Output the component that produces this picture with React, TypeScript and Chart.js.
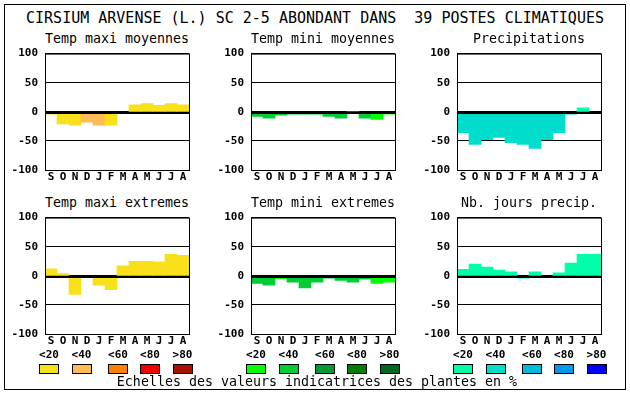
import React, { useEffect, useRef } from "react";
import { Chart, registerables } from "chart.js";

Chart.register(...registerables);

const MONO = '"DejaVu Sans Mono", "Liberation Mono", monospace';

const months = ["S", "O", "N", "D", "J", "F", "M", "A", "M", "J", "J", "A"];

const mainTitle = "CIRSIUM ARVENSE (L.) SC 2-5 ABONDANT DANS  39 POSTES CLIMATIQUES";
const footerText = "Echelles des valeurs indicatrices des plantes en %";
const scaleLabels = ["<20", "<40", "<60", "<80", ">80"];
const yTicks = [-100, -50, 0, 50, 100];

const warmColors = ["#F8E11A", "#FFBB55", "#FF8000", "#EE0000", "#AA1100"];
const greenColors = ["#00FF00", "#00CC33", "#009933", "#007F00", "#006622"];
const blueColors = ["#00FFAA", "#00DDCC", "#00BBDD", "#0099EE", "#0000FF"];

const tmaxMoyValues = [-4, -21, -23, -18, -23, -23, -2, 12, 14, 11, 14, 12];
const tmaxMoyClasses = [0, 0, 0, 1, 1, 0, 0, 0, 0, 0, 0, 0];

const tminMoyValues = [-8, -11, -6, -4, -4, -4, -8, -11, 0, -11, -13, -4];
const tminMoyClasses = [1, 1, 1, 1, 1, 1, 1, 1, 1, 1, 0, 0];

const precipValues = [-36, -56, -48, -44, -53, -56, -63, -48, -36, -4, 7, -2];
const precipClasses = [1, 1, 1, 1, 1, 1, 1, 1, 1, 1, 0, 1];

const tmaxExtValues = [12, 4, -32, -3, -16, -24, 17, 25, 25, 24, 37, 35];
const tmaxExtClasses = [0, 0, 0, 0, 0, 0, 0, 0, 0, 0, 0, 0];

const tminExtValues = [-13, -16, -5, -11, -21, -11, -4, -8, -11, -6, -13, -11];
const tminExtClasses = [1, 1, 0, 1, 1, 1, 1, 1, 1, 1, 0, 0];

const joursValues = [11, 20, 15, 10, 7, -4, 7, -3, 5, 22, 37, 37];
const joursClasses = [0, 0, 0, 0, 0, 0, 0, 0, 0, 0, 0, 0];

const panels = [
  { title: "Temp maxi moyennes", values: tmaxMoyValues, classes: tmaxMoyClasses, palette: warmColors, px: 45, py: 50 },
  { title: "Temp mini moyennes", values: tminMoyValues, classes: tminMoyClasses, palette: greenColors, px: 251, py: 50 },
  { title: "Precipitations", values: precipValues, classes: precipClasses, palette: blueColors, px: 457, py: 50 },
  { title: "Temp maxi extremes", values: tmaxExtValues, classes: tmaxExtClasses, palette: warmColors, px: 45, py: 214 },
  { title: "Temp mini extremes", values: tminExtValues, classes: tminExtClasses, palette: greenColors, px: 251, py: 214 },
  { title: "Nb. jours precip.", values: joursValues, classes: joursClasses, palette: blueColors, px: 457, py: 214 },
];

const legendGroups = [
  { left: 39, palette: warmColors },
  { left: 246, palette: greenColors },
  { left: 453, palette: blueColors },
];
const legendOffsets = [0, 32.5, 69, 101, 133.5];

const PLOT_W = 144;
const PLOT_H = 120;
const AXIS_W = 40;
const PAD_TOP = 10;
const PAD_RIGHT = 6;
const XAXIS_H = 20;

const framePlugin = {
  id: "frameAndZero",
  afterDraw(chart: any) {
    const { ctx, chartArea } = chart;
    const y = chart.scales.y;
    ctx.save();
    ctx.strokeStyle = "#000";
    ctx.lineWidth = 1;
    ctx.strokeRect(
      chartArea.left + 0.5,
      chartArea.top + 0.5,
      chartArea.right - chartArea.left,
      chartArea.bottom - chartArea.top
    );
    const y0 = Math.round(y.getPixelForValue(0));
    ctx.fillStyle = "#000";
    ctx.fillRect(chartArea.left, y0, chartArea.right - chartArea.left + 1, 2);
    ctx.restore();
  },
};

function Panel({ p }: { p: any }) {
  const ref = useRef<HTMLCanvasElement>(null);
  useEffect(() => {
    if (!ref.current) return;
    const chart = new Chart(ref.current, {
      type: "bar",
      data: {
        labels: months,
        datasets: [
          {
            data: p.values,
            backgroundColor: p.classes.map((c: number) => p.palette[c]),
            borderWidth: 0,
            barPercentage: 1,
            categoryPercentage: 1,
          },
        ],
      },
      options: {
        animation: false,
        responsive: false,
        maintainAspectRatio: false,
        devicePixelRatio: 1,
        layout: { padding: { top: PAD_TOP, right: PAD_RIGHT, left: 0, bottom: 0 } },
        plugins: {
          legend: { display: false },
          tooltip: { enabled: false },
          title: { display: false },
        },
        scales: {
          x: {
            type: "category",
            offset: true,
            grid: { display: false, drawTicks: false },
            border: { display: false },
            ticks: {
              color: "#000",
              font: { family: MONO, size: 11, weight: "bold" },
              padding: 1,
              maxRotation: 0,
              minRotation: 0,
              autoSkip: false,
            },
            afterFit: (s: any) => {
              s.height = XAXIS_H;
            },
          },
          y: {
            min: -100,
            max: 100,
            z: 1,
            afterBuildTicks: (s: any) => {
              s.ticks = yTicks.map((v) => ({ value: v }));
            },
            ticks: {
              color: "#000",
              font: { family: MONO, size: 11, weight: "bold" },
              padding: 7,
              callback: (v: any) => String(v),
            },
            grid: { color: "#000", lineWidth: 1, drawTicks: false },
            border: { display: false },
            afterFit: (s: any) => {
              s.width = AXIS_W;
            },
          },
        },
      } as any,
      plugins: [framePlugin],
    });
    return () => chart.destroy();
  }, [p]);

  const cw = AXIS_W + PLOT_W + PAD_RIGHT;
  const ch = PAD_TOP + PLOT_H + XAXIS_H;
  return (
    <canvas
      ref={ref}
      width={cw}
      height={ch}
      style={{
        position: "absolute",
        left: p.px - AXIS_W,
        top: p.py - PAD_TOP,
        width: cw,
        height: ch,
        display: "block",
      }}
    />
  );
}

function Label({
  text,
  cx,
  cy,
  size,
  bold,
}: {
  text: string;
  cx: number;
  cy: number;
  size: number;
  bold?: boolean;
}) {
  const h = Math.round(size + 4);
  return (
    <div
      style={{
        position: "absolute",
        left: cx - 310,
        width: 620,
        top: cy - h / 2,
        height: h,
        lineHeight: h + "px",
        textAlign: "center",
        fontFamily: MONO,
        fontSize: size,
        fontWeight: bold ? "bold" : "normal",
        whiteSpace: "pre",
        color: "#000",
      }}
    >
      {text}
    </div>
  );
}

export default function App() {
  return (
    <div
      style={{
        position: "fixed",
        left: 0,
        top: 0,
        width: 630,
        height: 394,
        background: "#fff",
        overflow: "hidden",
      }}
    >
      <div
        style={{
          position: "absolute",
          left: 4,
          top: 4,
          width: 622,
          height: 386,
          boxSizing: "border-box",
          border: "1px solid #000",
        }}
      />
      <Label text={mainTitle} cx={315} cy={18} size={15} />
      {panels.map((p, i) => (
        <React.Fragment key={i}>
          <Label text={p.title} cx={p.px + PLOT_W / 2} cy={p.py - 12} size={13.3} />
          <Panel p={p} />
        </React.Fragment>
      ))}
      {legendGroups.map((g, gi) =>
        g.palette.map((c, i) => (
          <React.Fragment key={gi + "-" + i}>
            <Label text={scaleLabels[i]} cx={g.left + legendOffsets[i] + 10} cy={354} size={11} bold />
            <div
              style={{
                position: "absolute",
                left: Math.round(g.left + legendOffsets[i]),
                top: 364,
                width: 20,
                height: 10,
                boxSizing: "border-box",
                border: "1px solid #000",
                background: c,
              }}
            />
          </React.Fragment>
        ))
      )}
      <Label text={footerText} cx={317} cy={381.5} size={13.3} />
    </div>
  );
}
